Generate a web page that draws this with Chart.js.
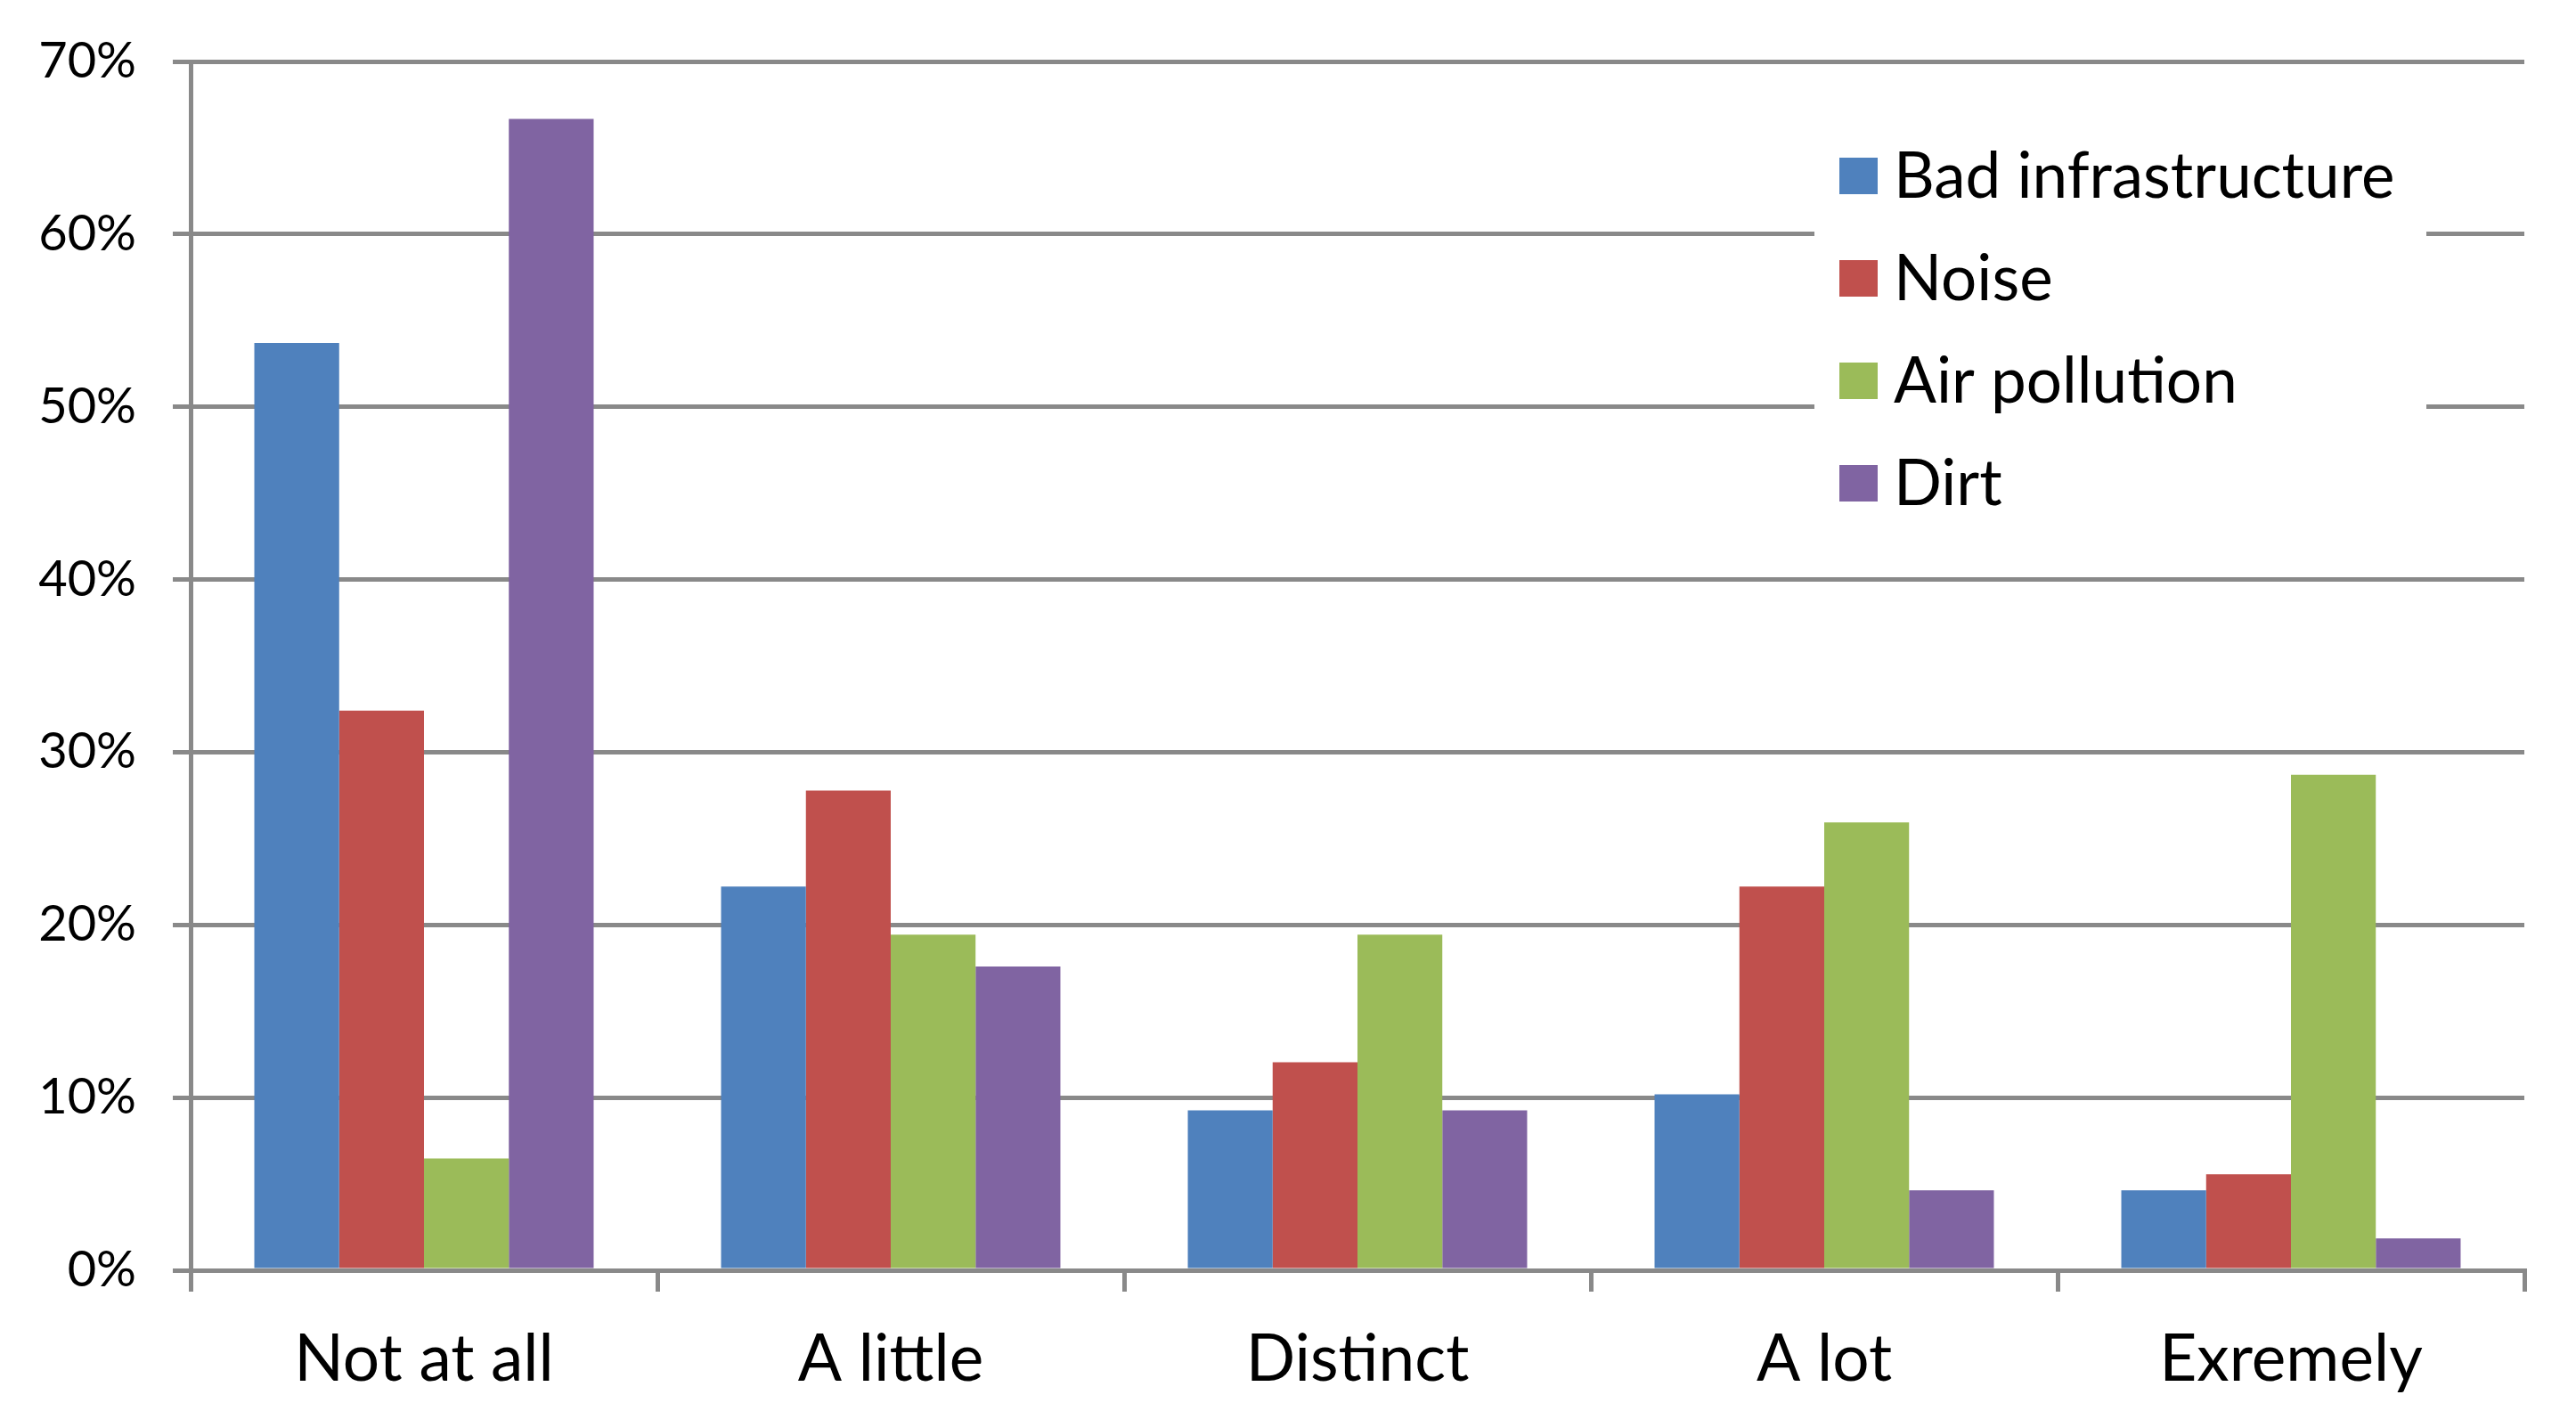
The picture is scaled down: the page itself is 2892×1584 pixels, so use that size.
<!DOCTYPE html>
<html>
<head>
<meta charset="utf-8">
<script src="https://cdn.jsdelivr.net/npm/chart.js@4.4.1/dist/chart.umd.min.js"></script>
<style>
  html, body { margin: 0; padding: 0; background: #fff; }
  #wrap { width: 2892px; height: 1584px; }
</style>
</head>
<body>
<div id="wrap"><canvas id="chart" width="2892" height="1584"></canvas></div>
<script>
// categories and series (percent of respondents)
const categories = ['Not at all', 'A little', 'Distinct', 'A lot', 'Exremely'];
const seriesNames = ['Bad infrastructure', 'Noise', 'Air pollution', 'Dirt'];
const badInfrastructure = [53.70, 22.22, 9.26, 10.19, 4.63];
const noise = [32.41, 27.78, 12.04, 22.22, 5.56];
const airPollution = [6.48, 19.44, 19.44, 25.93, 28.70];
const dirt = [66.67, 17.59, 9.26, 4.63, 1.85];
const seriesColors = ['#4F81BD', '#C0504D', '#9BBB59', '#8064A2'];
const yTicks = [0, 10, 20, 30, 40, 50, 60, 70];

const gridColor = '#898989';
const fontFamily = 'Lato, "Open Sans", sans-serif';

// legend drawn inside the plot, top right, on a white box
const insideLegend = {
  id: 'insideLegend',
  afterDraw(chart) {
    const ctx = chart.ctx;
    ctx.save();
    ctx.fillStyle = '#ffffff';
    ctx.fillRect(2037, 125, 687, 470);
    ctx.font = '71px ' + fontFamily;
    ctx.textBaseline = 'middle';
    ctx.textAlign = 'left';
    chart.data.datasets.forEach((ds, i) => {
      const cy = 197 + i * 115;
      ctx.fillStyle = ds.backgroundColor;
      ctx.fillRect(2065, cy - 20, 43, 41);
      ctx.fillStyle = '#000';
      ctx.fillText(ds.label, 2126, cy + 2);
    });
    ctx.restore();
  }
};

const allSeries = [badInfrastructure, noise, airPollution, dirt];

new Chart(document.getElementById('chart'), {
  type: 'bar',
  data: {
    labels: categories,
    datasets: allSeries.map((values, i) => ({
      label: seriesNames[i],
      data: values,
      backgroundColor: seriesColors[i],
      borderWidth: 0,
      categoryPercentage: 0.727,
      barPercentage: 1.0
    }))
  },
  options: {
    responsive: false,
    animation: false,
    devicePixelRatio: 1,
    layout: { padding: { top: 40, right: 58, left: 0, bottom: 0 } },
    plugins: {
      legend: { display: false },
      tooltip: { enabled: false }
    },
    scales: {
      x: {
        grid: {
          offset: true,
          drawOnChartArea: false,
          drawTicks: true,
          tickLength: 24,
          color: gridColor,
          lineWidth: 5
        },
        border: { display: true, color: gridColor, width: 5 },
        ticks: {
          color: '#000',
          padding: 33,
          font: { family: fontFamily, size: 73 }
        },
        afterFit(scale) { scale.height = 158; }
      },
      y: {
        min: 0,
        max: 70,
        afterBuildTicks(scale) {
          scale.ticks = yTicks.map(v => ({ value: v }));
        },
        ticks: {
          color: '#000',
          padding: 41,
          font: { family: fontFamily, size: 56, lineHeight: 1.0 },
          callback: v => v + '%'
        },
        grid: { color: gridColor, lineWidth: 5, tickLength: 20 },
        border: { display: true, color: gridColor, width: 5 },
        afterFit(scale) { scale.width = 214; }
      }
    }
  },
  plugins: [insideLegend]
});
</script>
</body>
</html>
